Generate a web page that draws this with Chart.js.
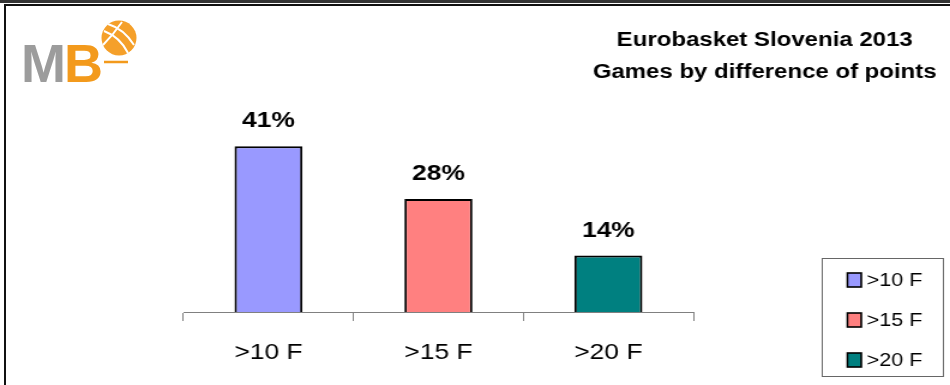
<!DOCTYPE html>
<html>
<head>
<meta charset="utf-8">
<script src="https://cdn.jsdelivr.net/npm/chart.js@4/dist/chart.umd.min.js"></script>
<style>
  html, body { margin: 0; padding: 0; background: #fff; }
  #page { position: relative; width: 950px; height: 385px; overflow: hidden; background: #fff; }
  .band { position: absolute; left: 0; top: 0; width: 950px; height: 3px; background: #333; }
  .frame { position: absolute; left: 4px; top: 4px; width: 946px; height: 381px;
           border-top: 2px solid #111; border-left: 2px solid #111; box-sizing: border-box; }
  #logo { position: absolute; left: 0; top: 0; }
  #stretch { position: absolute; left: 0; top: 0; width: 792px; height: 385px;
             transform: scaleX(1.1995); transform-origin: 0 0; }
</style>
</head>
<body>
<div id="page">
  <div class="band"></div>
  <div class="frame"></div>
  <div id="stretch"><canvas id="chart" width="792" height="385"></canvas></div>
  <svg id="logo" width="160" height="100">
    <text x="21" y="82" font-family="Liberation Sans, Arial, sans-serif" font-weight="bold" font-size="54" letter-spacing="-2"><tspan fill="#9c9c9c">M</tspan><tspan fill="#f39a1c">B</tspan></text>
    <circle cx="119" cy="38" r="17.5" fill="#f5a02a"/>
    <path d="M104 31 Q120 37 128 53 M108 24 Q124 29 134 45 M103 45 Q113 35 122 22" stroke="#fff" stroke-width="2" fill="none"/>
    <line x1="104" y1="62" x2="128" y2="62" stroke="#f39a1c" stroke-width="2.5"/>
  </svg>
</div>
<script>
const categories = ['>10 F', '>15 F', '>20 F'];
const percentages = [41, 28, 14];
const barColors = ['#9999ff', '#ff8080', '#008080'];
const titleLines = ['Eurobasket Slovenia 2013', 'Games by difference of points'];

const fontFamily = "'Liberation Sans', Arial, sans-serif";

// value labels over each bar
const valueLabels = {
  id: 'valueLabels',
  afterDatasetsDraw(chart) {
    const ctx = chart.ctx;
    const meta = chart.getDatasetMeta(0);
    ctx.save();
    ctx.font = 'bold 22px ' + fontFamily;
    ctx.fillStyle = '#000';
    ctx.textAlign = 'center';
    ctx.textBaseline = 'middle';
    meta.data.forEach((bar, i) => {
      ctx.fillText(percentages[i] + '%', bar.x, bar.y - 25);
    });
    ctx.restore();
  }
};

// title and boxed legend on the right
const sideDecor = {
  id: 'sideDecor',
  afterDraw(chart) {
    const ctx = chart.ctx;
    ctx.save();
    ctx.fillStyle = '#000';
    ctx.textAlign = 'center';
    ctx.textBaseline = 'middle';
    ctx.font = 'bold 20px ' + fontFamily;
    titleLines.forEach((line, i) => ctx.fillText(line, 637.5, 40 + i * 32));

    ctx.strokeStyle = '#666';
    ctx.lineWidth = 1;
    ctx.strokeRect(685.5, 258.5, 101, 118);
    ctx.font = '18px ' + fontFamily;
    ctx.textAlign = 'left';
    categories.forEach((cat, i) => {
      const y = 280 + i * 40;
      ctx.fillStyle = barColors[i];
      ctx.fillRect(706.5, y - 7, 11.5, 14);
      ctx.strokeStyle = '#000';
      ctx.lineWidth = 1.6;
      ctx.strokeRect(706.5, y - 7, 11.5, 14);
      ctx.fillStyle = '#000';
      ctx.fillText(cat, 722.5, y + 1);
    });
    ctx.restore();
  }
};

new Chart(document.getElementById('chart'), {
  type: 'bar',
  data: {
    labels: categories,
    datasets: [{
      data: percentages,
      backgroundColor: barColors,
      borderColor: '#000',
      borderWidth: 2,
      borderSkipped: 'bottom',
      categoryPercentage: 1,
      barPercentage: 0.4
    }]
  },
  options: {
    responsive: false,
    animation: false,
    devicePixelRatio: 1,
    layout: { padding: { left: 153, right: 214, top: 110, bottom: 0 } },
    plugins: { legend: { display: false }, tooltip: { enabled: false } },
    scales: {
      x: {
        offset: true,
        afterFit(scale) { scale.height = 73; },
        grid: { offset: true, drawOnChartArea: false, drawTicks: true, tickLength: 9, color: '#808080', lineWidth: 1 },
        border: { color: '#808080', width: 1 },
        ticks: { color: '#000', padding: 19, font: { family: fontFamily, size: 22 } }
      },
      y: {
        display: false,
        min: 0,
        max: 50
      }
    }
  },
  plugins: [valueLabels, sideDecor]
});
</script>
</body>
</html>
